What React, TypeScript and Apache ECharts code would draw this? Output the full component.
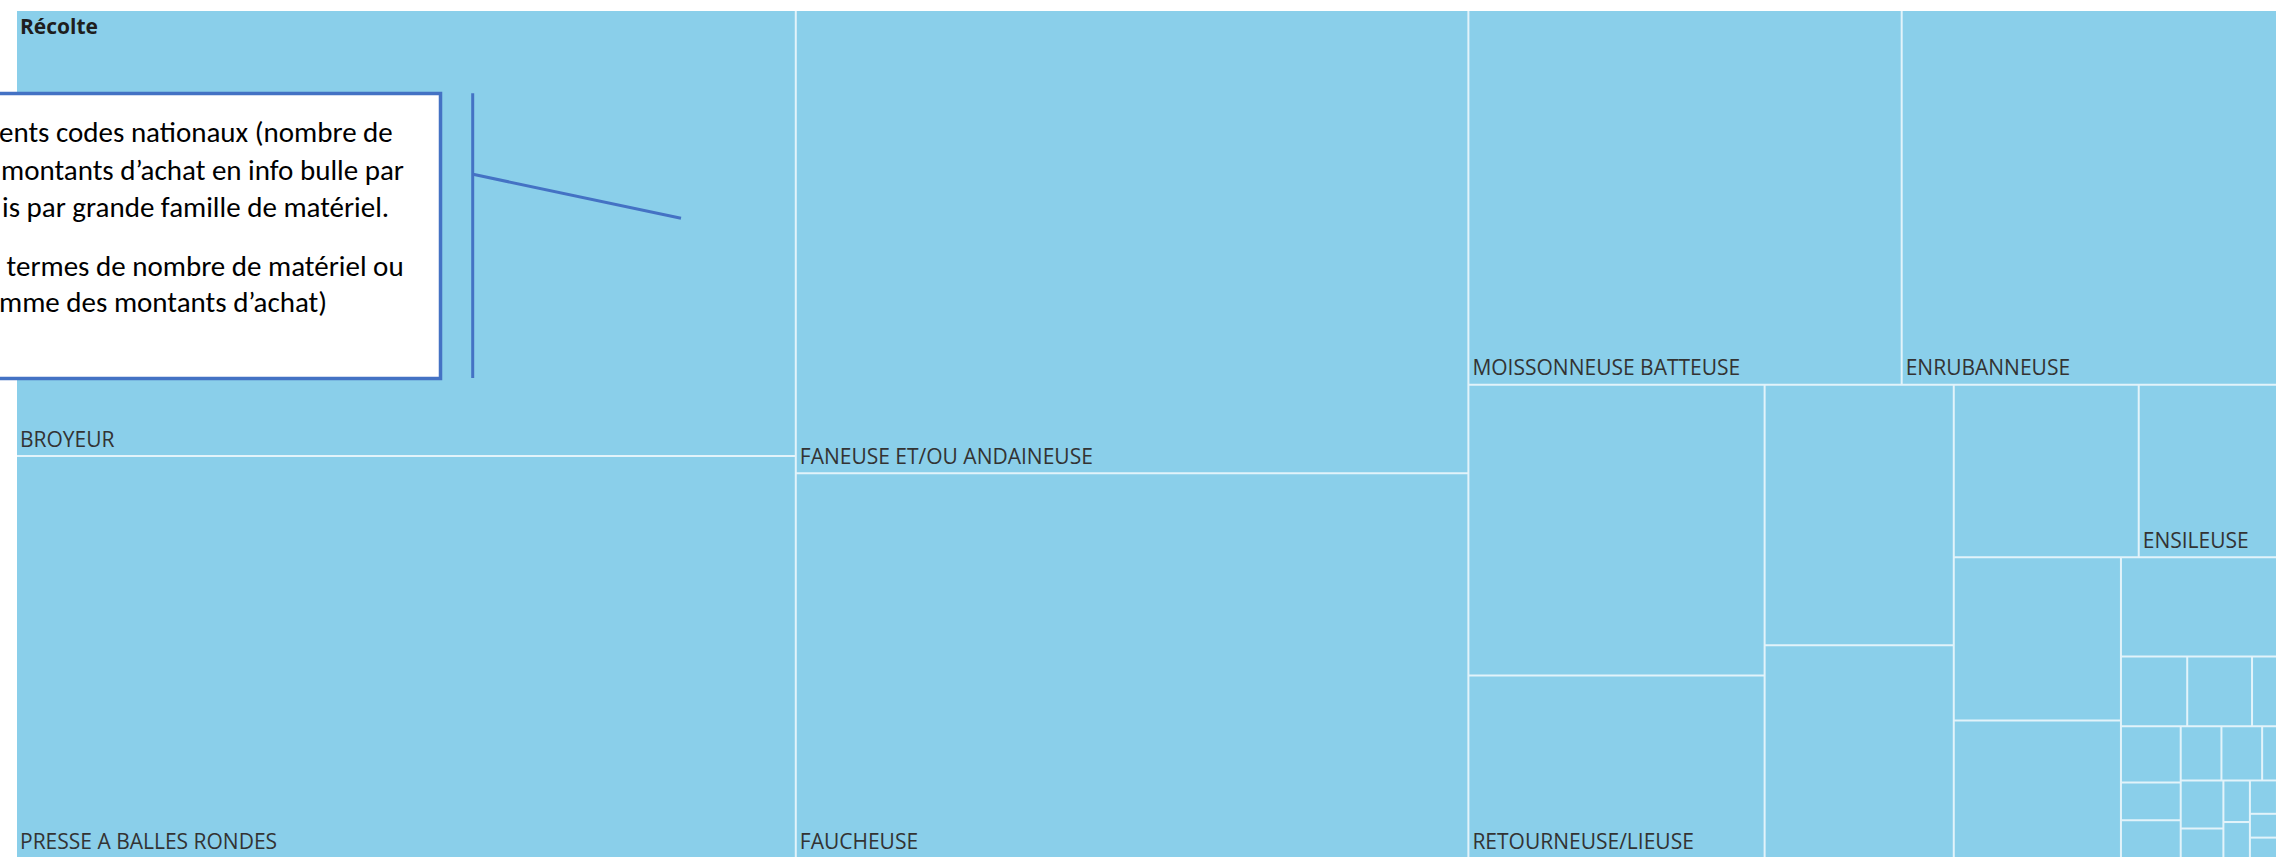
import React, { useEffect, useRef } from 'react';
import * as echarts from 'echarts';

// ---- data ----
const groupName = 'Récolte';
const categories = [
  'BROYEUR',
  'PRESSE A BALLES RONDES',
  'FANEUSE ET/OU ANDAINEUSE',
  'FAUCHEUSE',
  'MOISSONNEUSE BATTEUSE',
  'ENRUBANNEUSE',
  '',
  'RETOURNEUSE/LIEUSE',
  '',
  '',
  '',
  'ENSILEUSE',
  '',
  '',
  '',
  '',
  '',
  '',
  '',
  '',
  '',
  '',
  '',
  '',
  '',
  '',
  '',
  '',
  '',
  '',
  '',
  '',
  '',
  '',
];
const values = [
  3467, 3124, 3105, 2580, 1619, 1492, 858, 539, 491, 401, 318, 279, 272, 229, 178,
  46, 45, 34, 33.5, 22.5, 22.5, 22, 22, 21, 20.5, 12.5, 11, 9.5, 9, 8, 7, 6, 5, 4.5,
];
const noteLines = [
  'ents codes nationaux (nombre de',
  'montants d’achat en info bulle par',
  'is par grande famille de matériel.',
  ' termes de nombre de matériel ou',
  'mme des montants d’achat)',
];

// ---- styles ----
const TILE = '#8ACFEA';
const GAP = '#E2F3FA';
const LABEL = '#333333';
const BLUE = '#4472C4';
const LABEL_FONT = "'Open Sans', 'Noto Sans', sans-serif";
const NOTE_FONT = "Carlito, Lato, 'Open Sans', sans-serif";

export default function App() {
  const ref = useRef<HTMLDivElement>(null);

  useEffect(() => {
    document.body.style.margin = '0';
    document.body.style.overflow = 'hidden';
    const chart = echarts.init(ref.current as HTMLDivElement, null, { renderer: 'svg' });

    const data = categories.map((name, i) => ({
      name,
      value: values[i],
      itemStyle: { color: TILE },
      label: { show: name !== '' },
    }));

    const noteX = [-1, 1, 2, 0, -1];
    const noteBaseline = [143.5, 181.5, 218.5, 277.5, 313.5];
    const noteSize = 29;

    chart.setOption({
      animation: false,
      title: {
        text: groupName,
        left: 20,
        top: 15,
        padding: 0,
        textStyle: { fontSize: 21, fontWeight: 'bold', fontFamily: LABEL_FONT, color: '#1e1e1e' },
      },
      series: [
        {
          type: 'treemap',
          left: 17,
          top: 11,
          width: 2283,
          height: 846,
          squareRatio: 1,
          sort: 'desc',
          roam: false,
          nodeClick: false,
          breadcrumb: { show: false },
          itemStyle: { borderWidth: 0, gapWidth: 2, borderColor: GAP },
          upperLabel: { show: false },
          label: {
            show: true,
            position: 'insideBottomLeft',
            distance: 2,
            padding: 0,
            offset: [1, -4],
            color: LABEL,
            fontSize: 21,
            fontFamily: LABEL_FONT,
          },
          emphasis: { disabled: true },
          data,
        },
      ],
      graphic: [
        {
          type: 'rect',
          z: 100,
          shape: { x: -10, y: 93.5, width: 450.5, height: 285 },
          style: { fill: '#ffffff', stroke: BLUE, lineWidth: 3.5 },
        },
        {
          type: 'line',
          z: 100,
          shape: { x1: 472.7, y1: 93.3, x2: 472.7, y2: 378 },
          style: { stroke: BLUE, lineWidth: 3 },
        },
        {
          type: 'line',
          z: 100,
          shape: { x1: 473, y1: 174.3, x2: 681, y2: 218.3 },
          style: { stroke: BLUE, lineWidth: 3 },
        },
        ...noteLines.map((t, i) => ({
          type: 'text',
          z: 101,
          x: noteX[i],
          y: noteBaseline[i] - 0.387 * noteSize,
          style: {
            text: t,
            fontSize: noteSize,
            fontFamily: NOTE_FONT,
            fill: '#000000',
            align: 'left',
            verticalAlign: 'middle',
          },
        })),
      ],
    });

    return () => chart.dispose();
  }, []);

  return <div ref={ref} style={{ width: 2276, height: 857 }} />;
}
